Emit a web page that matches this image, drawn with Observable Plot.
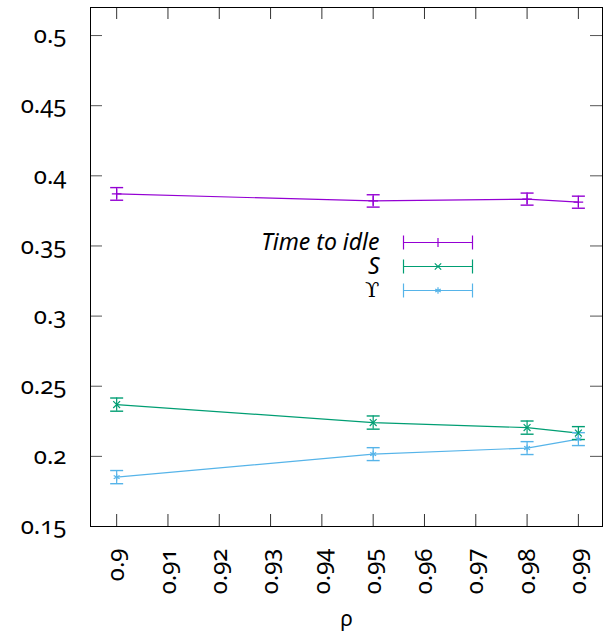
<!DOCTYPE html>
<html>
<head>
<meta charset="utf-8">
<script src="https://cdn.jsdelivr.net/npm/d3@7"></script>
<script src="https://cdn.jsdelivr.net/npm/@observablehq/plot@0.6"></script>
<style>
  html, body { margin: 0; padding: 0; background: white; }
  #wrap { position: relative; width: 610px; height: 635px; }
  #legend { position: absolute; left: 220px; top: 214px; }
  svg text { font-feature-settings: "onum" 1; font-variant-numeric: oldstyle-nums; }
</style>
</head>
<body>
<div id="wrap"><div id="chart"></div><div id="legend"></div></div>
<script>
// ---- data ----
const rho = [0.9, 0.95, 0.98, 0.99];
const seriesNames = ["Time to idle", "S", "ϒ"];
const timeToIdle    = [0.3871, 0.3821, 0.3834, 0.3812];
const timeToIdleErr = [0.0045, 0.0044, 0.0043, 0.0043];
const sValues       = [0.2369, 0.2241, 0.2205, 0.2166];
const sErr          = [0.0047, 0.0047, 0.0047, 0.0046];
const upsValues     = [0.1852, 0.2016, 0.2059, 0.2123];
const upsErr        = [0.0047, 0.0046, 0.0046, 0.0046];
const xTicks = [0.9, 0.91, 0.92, 0.93, 0.94, 0.95, 0.96, 0.97, 0.98, 0.99];
const xTickLabels = ["0.9", "0.91", "0.92", "0.93", "0.94", "0.95", "0.96", "0.97", "0.98", "0.99"];
const yTicks = [0.15, 0.2, 0.25, 0.3, 0.35, 0.4, 0.45, 0.5];
const yTickLabels = ["0.15", "0.2", "0.25", "0.3", "0.35", "0.4", "0.45", "0.5"];
const colors = ["#9400d3", "#009e73", "#56b4e9"];
const symbols = ["plus", "times", "asterisk"];

const valuesBySeries = [timeToIdle, sValues, upsValues];
const errBySeries = [timeToIdleErr, sErr, upsErr];
const rows = seriesNames.flatMap((name, k) =>
  rho.map((x, i) => ({series: name, x, y: valuesBySeries[k][i], e: errBySeries[k][i]})));

// error-bar cap symbols
const hcap = {draw(ctx, size) { const w = Math.sqrt(size / Math.PI); ctx.moveTo(-w, 0); ctx.lineTo(w, 0); }};
const vcap = {draw(ctx, size) { const w = Math.sqrt(size / Math.PI); ctx.moveTo(0, -w); ctx.lineTo(0, w); }};

const W = 610, H = 635, ML = 90, MR = 8, MT = 7, MB = 109;
const TICK = 12;
const fw = W - ML - MR, fh = H - MT - MB;

const chart = Plot.plot({
  width: W, height: H,
  marginLeft: ML, marginRight: MR, marginTop: MT, marginBottom: MB,
  x: {domain: [0.8949, 0.9947]},
  y: {domain: [0.15, 0.52]},
  color: {domain: seriesNames, range: colors},
  symbol: {domain: seriesNames, range: symbols},
  style: {fontFamily: "'Noto Sans', sans-serif", fontSize: "24px", color: "black", background: "white"},
  marks: [
    Plot.tickY(yTicks, {y: d => d, insetRight: fw - TICK, stroke: "#555"}),
    Plot.tickY(yTicks, {y: d => d, insetLeft: fw - TICK, stroke: "#555"}),
    Plot.tickX(xTicks, {x: d => d, insetTop: fh - TICK, stroke: "#333"}),
    Plot.tickX(xTicks, {x: d => d, insetBottom: fh - TICK, stroke: "#333"}),
    Plot.frame({stroke: "black"}),
    Plot.axisY({ticks: yTicks, tickSize: 0, tickPadding: 24, label: null,
      tickFormat: d => yTickLabels[yTicks.indexOf(d)]}),
    Plot.axisX({ticks: xTicks, tickSize: 0, tickRotate: -90, tickPadding: 22, label: null,
      tickFormat: d => xTickLabels[xTicks.indexOf(d)]}),
    Plot.text(["ρ"], {frameAnchor: "bottom", dy: 99, fontSize: 21, text: d => d}),
    Plot.line(rows, {x: "x", y: "y", z: "series", stroke: "series", strokeWidth: 1.2}),
    Plot.ruleX(rows, {x: "x", y1: d => d.y - d.e, y2: d => d.y + d.e, stroke: "series", strokeWidth: 1.2}),
    Plot.dot(rows, {x: "x", y: d => d.y - d.e, symbol: hcap, r: 6.5, fill: "none", stroke: "series", strokeWidth: 1.4}),
    Plot.dot(rows, {x: "x", y: d => d.y + d.e, symbol: hcap, r: 6.5, fill: "none", stroke: "series", strokeWidth: 1.4}),
    Plot.dot(rows, {x: "x", y: "y", symbol: "series", r: 3.2, fill: "none", stroke: "series", strokeWidth: 1.2})
  ]
});
document.getElementById("chart").appendChild(chart);

const legend = Plot.plot({
  width: 260, height: 104,
  marginLeft: 183, marginRight: 8, marginTop: 28, marginBottom: 28,
  x: {domain: [0, 1], axis: null},
  y: {type: "point", domain: seriesNames, range: [28, 76], padding: 0, axis: null},
  color: {domain: seriesNames, range: colors},
  symbol: {domain: seriesNames, range: symbols},
  style: {fontFamily: "'Noto Sans', sans-serif", fontSize: "23px", color: "black", background: "transparent", overflow: "visible"},
  marks: [
    Plot.ruleY(seriesNames, {y: d => d, x1: 0, x2: 1, stroke: d => d, strokeWidth: 1.2}),
    Plot.dot(seriesNames, {x: 0, y: d => d, symbol: vcap, r: 7, fill: "none", stroke: d => d, strokeWidth: 1.2}),
    Plot.dot(seriesNames, {x: 1, y: d => d, symbol: vcap, r: 7, fill: "none", stroke: d => d, strokeWidth: 1.2}),
    Plot.dot(seriesNames, {x: 0.5, y: d => d, symbol: d => d, r: 3, fill: "none", stroke: d => d, strokeWidth: 1.2}),
    Plot.text(seriesNames.filter(d => d !== "ϒ"), {x: 0, y: d => d, text: d => d, dx: -24, textAnchor: "end", fontStyle: "italic"}),
    Plot.text(seriesNames.filter(d => d === "ϒ"), {x: 0, y: d => d, text: d => d, dx: -24, textAnchor: "end", fontFamily: "'DejaVu Serif', serif", fontSize: 21})
  ]
});
document.getElementById("legend").appendChild(legend);
</script>
</body>
</html>
